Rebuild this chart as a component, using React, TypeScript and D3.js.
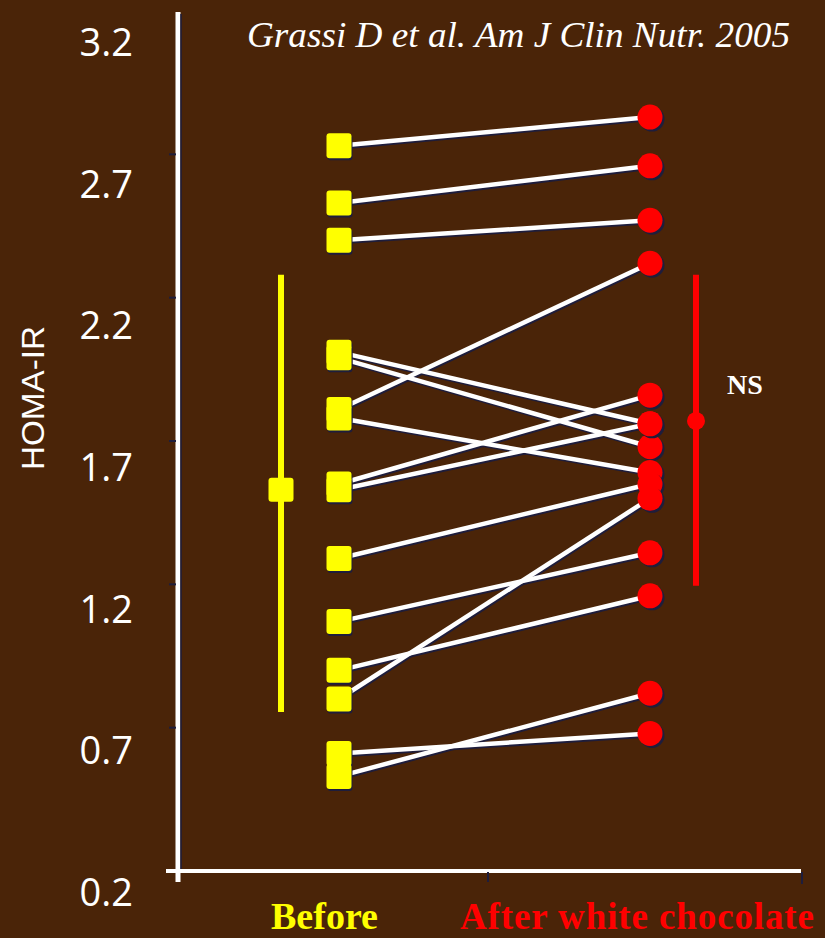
import React from 'react';
import * as d3 from 'd3';

// HOMA-IR before / after white chocolate (paired subjects)

const groups = ['Before', 'After white chocolate'];
const yTicks = [0.2, 0.7, 1.2, 1.7, 2.2, 2.7, 3.2];

// one entry per subject, same order in both arrays
const before = [2.73, 2.53, 2.4, 2.01, 1.99, 1.81, 1.78, 1.55, 1.53, 1.29, 1.07, 0.9, 0.8, 0.61, 0.53];
const after = [2.83, 2.66, 2.47, 1.76, 1.68, 2.32, 1.59, 1.86, 1.76, 1.55, 1.31, 1.16, 1.5, 0.68, 0.82];

// mean and spread bars
const groupMean = [1.53, 1.77];
const groupLow = [0.755, 1.195];
const groupHigh = [2.28, 2.28];

const BG = '#4a2408';
const SHADOW = '#1e1d3c';
const groupColors = ['#ffff00', '#ff0000'];

const App = () => {
  const width = 825;
  const height = 938;

  const y = d3.scaleLinear().domain([0.2, 3.2]).range([871, 11]);
  // the slide's tick labels sit a little lower than the tick marks
  const yLabel = d3.scaleLinear().domain([0.2, 3.2]).range([891, 41]);
  const x = d3.scalePoint<string>().domain(groups).range([339, 650]);

  const xb = x(groups[0])!;
  const xa = x(groups[1])!;
  const barX = [xb - 58, xa + 46];

  const sq = 25;
  const r = 12.5;

  return (
    <svg
      width={width}
      height={height}
      style={{ position: 'absolute', left: 0, top: 0, display: 'block' }}
    >
      <rect width={width} height={height} fill={BG} />

      {/* axes */}
      <line x1={178} x2={178} y1={12} y2={882} stroke="#fff" strokeWidth={5} />
      <line x1={181} x2={181} y1={14} y2={870} stroke={SHADOW} strokeWidth={1.5} />
      <line x1={166} x2={801} y1={871} y2={871} stroke="#fff" strokeWidth={4} />
      <line x1={488} x2={488} y1={872} y2={882} stroke={SHADOW} strokeWidth={2} />
      <line x1={802} x2={802} y1={872} y2={884} stroke={SHADOW} strokeWidth={2} />
      {yTicks.map(t => (
        <g key={t}>
          {t > 0.2 && t < 3.2 && (
            <line x1={169} x2={176} y1={y(t)} y2={y(t)} stroke={SHADOW} strokeWidth={2} />
          )}
          <text
            x={133}
            y={yLabel(t)}
            textAnchor="end"
            dominantBaseline="central"
            fill="#fff"
            fontFamily="'Open Sans', sans-serif"
            fontSize={38}
          >
            {t.toFixed(1)}
          </text>
        </g>
      ))}
      <text
        transform="translate(44,398) rotate(-90)"
        textAnchor="middle"
        fill="#fff"
        fontFamily="'Liberation Sans Narrow', 'Liberation Sans', Arial, sans-serif"
        fontSize={31}
        textLength={144}
        lengthAdjust="spacingAndGlyphs"
      >
        HOMA-IR
      </text>

      {/* paired lines */}
      {before.map((b, i) => (
        <line
          key={'s' + i}
          x1={xb + 1}
          x2={xa + 1}
          y1={y(b) + 2}
          y2={y(after[i]) + 2}
          stroke={SHADOW}
          strokeWidth={4}
        />
      ))}
      {before.map((b, i) => (
        <line
          key={'l' + i}
          x1={xb}
          x2={xa}
          y1={y(b)}
          y2={y(after[i])}
          stroke="#fff"
          strokeWidth={4.5}
        />
      ))}

      {/* before squares */}
      {before.map((b, i) => (
        <g key={'b' + i}>
          <rect x={xb - sq / 2 + 1} y={y(b) - sq / 2 + 2} width={sq} height={sq} rx={3} fill={SHADOW} />
          <rect x={xb - sq / 2} y={y(b) - sq / 2} width={sq} height={sq} rx={3} fill={groupColors[0]} />
        </g>
      ))}

      {/* after circles */}
      {after.map((a, i) => (
        <g key={'a' + i}>
          <circle cx={xa + 2} cy={y(a) + 2} r={r} fill={SHADOW} />
          <circle cx={xa} cy={y(a)} r={r} fill={groupColors[1]} />
        </g>
      ))}

      {/* mean +- spread */}
      {groups.map((g, i) => (
        <g key={g}>
          <line
            x1={barX[i]}
            x2={barX[i]}
            y1={y(groupHigh[i])}
            y2={y(groupLow[i])}
            stroke={groupColors[i]}
            strokeWidth={6}
          />
          {i === 0 ? (
            <rect x={barX[i] - 12.5} y={y(groupMean[i]) - 12} width={25} height={24} rx={3} fill={groupColors[i]} />
          ) : (
            <circle cx={barX[i]} cy={y(groupMean[i])} r={9} fill={groupColors[i]} />
          )}
        </g>
      ))}
      <text x={745} y={394} textAnchor="middle" fill="#fff" fontFamily="'Liberation Serif', serif" fontWeight="bold" fontSize={28}>
        NS
      </text>

      {/* category labels */}
      <text
        x={271}
        y={929}
        fill={groupColors[0]}
        fontFamily="'Liberation Serif', serif"
        fontWeight="bold"
        fontSize={37}
        textLength={107}
        lengthAdjust="spacingAndGlyphs"
      >
        {groups[0]}
      </text>
      <text
        x={460}
        y={929}
        fill={groupColors[1]}
        fontFamily="'Liberation Serif', serif"
        fontWeight="bold"
        fontSize={37}
        textLength={354}
        lengthAdjust="spacing"
      >
        {groups[1]}
      </text>

      <text
        x={247}
        y={47}
        fill="#fff"
        fontFamily="'Liberation Serif', serif"
        fontStyle="italic"
        fontSize={36}
        textLength={543}
        lengthAdjust="spacingAndGlyphs"
      >
        Grassi D et al. Am J Clin Nutr. 2005
      </text>
    </svg>
  );
};

export default App;
